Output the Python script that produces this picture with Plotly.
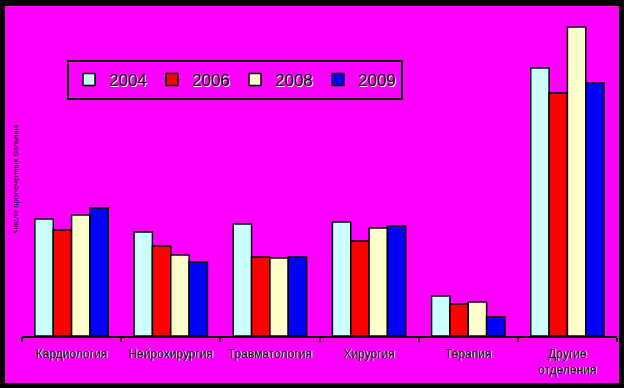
import plotly.graph_objects as go

categories = ["Кардиология", "Нейрохирургия", "Травматология", "Хирургия", "Терапия", "Другие<br>отделения"]
years = ["2004", "2006", "2008", "2009"]
v2004 = [117, 104, 112, 114, 40, 268]
v2006 = [106, 90, 79, 95, 32, 243]
v2008 = [121, 81, 78, 108, 34, 309]
v2009 = [128, 74, 79, 110, 19, 253]
colors = ["#CCFFFF", "#FF0000", "#FFFFCC", "#0000FF"]
y_title = "Число пролеченных больных"

W, H = 624, 388
L, R = 22, 617      # plot area in px
T, B = 10, 336
ymax = 326

fig = go.Figure()
for name, vals, col in zip(years, [v2004, v2006, v2008, v2009], colors):
    fig.add_trace(go.Bar(x=categories, y=vals, name=name,
                         marker=dict(color=col, line=dict(color="black", width=1.5))))

pw, ph = R - L, B - T
def px_x(x): return (x - L) / pw
def px_y(y): return (B - y) / ph

fig.add_shape(type="rect", xref="paper", yref="paper", layer="below",
              x0=px_x(5), x1=px_x(619), y0=px_y(383), y1=px_y(6),
              fillcolor="#FF00FF", line=dict(width=0))

fig.add_annotation(text=y_title, textangle=-90, xref="paper", yref="paper",
                   x=px_x(8.5), y=px_y(179), showarrow=False,
                   font=dict(size=8, color="black", family="Arial, Liberation Sans"))

fig.update_layout(
    width=W, height=H,
    margin=dict(l=L, r=W - R, t=T, b=H - B, pad=0),
    paper_bgcolor="black", plot_bgcolor="#FF00FF",
    barmode="group", bargap=0.26, bargroupgap=0,
    font=dict(family="Arial, Liberation Sans", color="black"),
    showlegend=True,
    legend=dict(orientation="h", x=px_x(67), y=px_y(60), xanchor="left", yanchor="top",
                bgcolor="#FF00FF", bordercolor="black", borderwidth=2,
                font=dict(size=17, color="black", family="Arial, Liberation Sans",
                          shadow="1px 1px 0px white"),
                entrywidth=38, entrywidthmode="pixels", traceorder="normal"),
    xaxis=dict(showline=True, linecolor="black", linewidth=2, ticks="outside",
               tickson="boundaries", ticklen=4, tickcolor="black", tickwidth=1.5,
               ticklabelstandoff=6,
               tickfont=dict(size=12, color="black", family="Arial, Liberation Sans",
                             shadow="1px 0px 0px white"),
               showgrid=False, zeroline=False),
    yaxis=dict(range=[0, ymax], showticklabels=False, showgrid=False, zeroline=False,
               showline=False, ticks=""),
)

fig.write_html("out.html", config={"displayModeBar": False},
               post_script="document.body.style.margin='0';document.body.style.overflow='hidden';")
